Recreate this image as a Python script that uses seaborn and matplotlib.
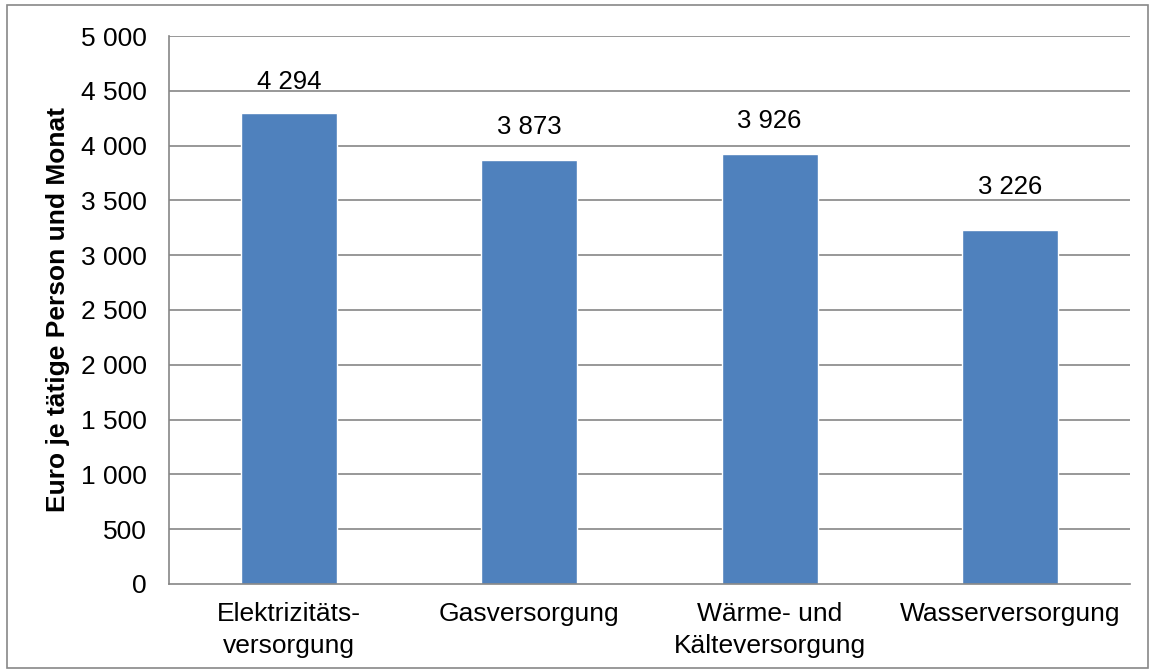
import pandas as pd
import matplotlib.pyplot as plt
import seaborn as sns
from matplotlib.patches import Rectangle

# Data
categories = ["Elektrizitäts-\nversorgung", "Gasversorgung", "Wärme- und\nKälteversorgung", "Wasserversorgung"]
values = [4294, 3873, 3926, 3226]
yticks = [0, 500, 1000, 1500, 2000, 2500, 3000, 3500, 4000, 4500, 5000]

# label distance above bar (points), as placed in the original
label_gap = [17.5, 18.5, 18.5, 26]

df = pd.DataFrame({"Bereich": categories, "Euro": values})

sns.set_style("white")
plt.rcParams["font.family"] = ["Liberation Sans", "DejaVu Sans"]
plt.rcParams["text.color"] = "black"
plt.rcParams["xtick.labelcolor"] = "black"
plt.rcParams["ytick.labelcolor"] = "black"
plt.rcParams["axes.labelcolor"] = "black"

fig = plt.figure(figsize=(11.55, 6.72), dpi=100)
ax = fig.add_axes([0.1463, 0.131, 0.8321, 0.8154])

grid_col = "#868686"
ax.set_axisbelow(True)
for t in yticks[1:]:
    ax.axhline(t, color=grid_col, linewidth=1.2, zorder=0)

sns.barplot(data=df, x="Bereich", y="Euro", color="#4F81BD", width=0.4, saturation=1, ax=ax, zorder=2)

for i, v in enumerate(values):
    ax.annotate(f"{v:,}".replace(",", " "), (i, v), xytext=(0, label_gap[i]), textcoords="offset points",
                ha="center", va="baseline", fontsize=18.5)

ax.set_ylim(0, 5000)
ax.set_xlim(-0.5, 3.5)
ax.set_yticks(yticks)
ax.set_yticklabels([f"{t:,}".replace(",", " ") for t in yticks], fontsize=19)
ax.tick_params(axis="x", which="major", length=0, labelsize=19, pad=13)
for lab in ax.get_xticklabels():
    lab.set_linespacing(1.4)
ax.set_xticks([-0.5, 0.5, 1.5, 2.5, 3.5], minor=True)
ax.tick_params(axis="x", which="minor", length=5, color=grid_col, width=1.2)
ax.tick_params(axis="y", length=5, color=grid_col, width=1.2, pad=11)

ax.set_xlabel("")
ax.set_ylabel("Euro je tätige Person und Monat", fontsize=19, fontweight="bold", labelpad=8)

for side in ["top", "right"]:
    ax.spines[side].set_visible(False)
for side in ["left", "bottom"]:
    ax.spines[side].set_color(grid_col)
    ax.spines[side].set_linewidth(1.2)

fig.patches.append(Rectangle((0.006, 0.006), 0.988, 0.986, transform=fig.transFigure,
                             fill=False, edgecolor="#888888", linewidth=1.2))

fig.savefig("out.png", dpi=100)
